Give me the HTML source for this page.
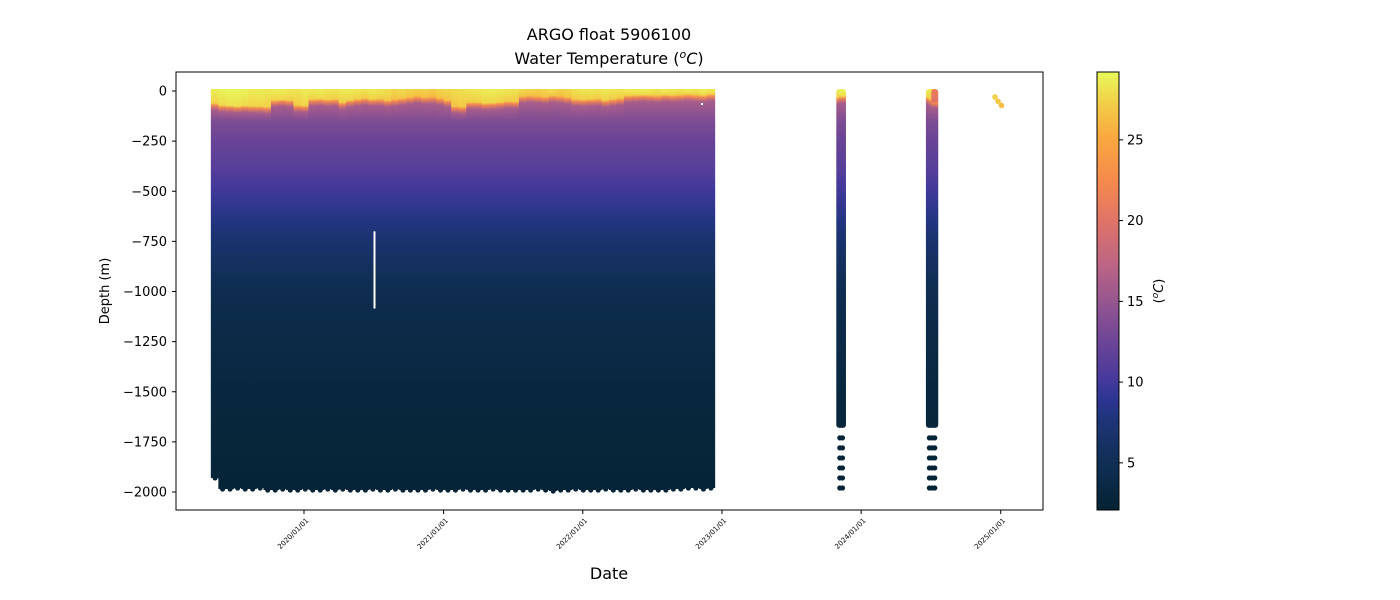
<!DOCTYPE html>
<html><head><meta charset="utf-8">
<style>
html,body{margin:0;padding:0;background:#fff;}
svg{display:block;font-family:"DejaVu Sans","Liberation Sans",sans-serif;}
</style></head>
<body>
<svg id="chart" width="1400" height="600" viewBox="0 0 1400 600" xmlns="http://www.w3.org/2000/svg">
<defs id="defs"></defs>
<rect x="0" y="0" width="1400" height="600" fill="#fff"/>
<g id="plot"></g>
<rect x="176" y="72" width="867" height="438" fill="none" stroke="#000" stroke-width="1"/>
<g id="axes"></g>
<text x="609" y="40" text-anchor="middle" font-size="16">ARGO float 5906100</text>
<text x="609" y="64" text-anchor="middle" font-size="16">Water Temperature (<tspan font-style="italic" baseline-shift="super" font-size="11">o</tspan><tspan font-style="italic">C</tspan>)</text>
<text x="609" y="579" text-anchor="middle" font-size="16">Date</text>
<text transform="translate(109,291) rotate(-90)" text-anchor="middle" font-size="13">Depth (m)</text>
<g id="cbar"></g>
<text transform="translate(1163,291) rotate(-90)" text-anchor="middle" font-size="13">(<tspan font-style="italic" baseline-shift="super" font-size="9">o</tspan><tspan font-style="italic">C</tspan>)</text>
</svg>
<script>
// ---- data ----
const startDate = "2019-05-03";
const profileStepDays = 19.7;
const mixedLayerDepth = [60,70,72,75,72,75,75,78,45,42,45,70,72,40,38,42,40,55,45,40,35,40,38,45,40,35,30,25,30,28,35,45,75,78,55,55,60,58,55,50,52,25,22,25,28,22,25,30,40,42,40,38,45,40,35,22,20,18,20,22,18,20,18,15,18,20,15];
const surfaceTemp = [28.5,28.8,29,29,28.8,28.5,28.6,28.4,28.5,28.6,28.3,28.2,28.5,28.4,28.6,28.3,28.2,28.4,28.5,28.3,28.1,28.4,28.2,28,27.5,27.8,27.4,27.2,27.3,27,27.5,27.6,27.8,28,28.2,28.3,28.5,28.6,28.4,28.2,28.1,27.6,27.4,27.2,27.5,27.8,27.3,27.5,28,28.2,28.3,28.1,28.4,28.2,28,28.3,28.5,28.6,28.4,28.2,28.5,28.3,28.1,28.4,28.2,28.5,28.3];
const maxDepth = [1930,1985,1985,1980,1985,1985,1980,1990,1990,1985,1990,1990,1985,1990,1990,1985,1990,1985,1990,1990,1990,1985,1990,1990,1985,1990,1990,1990,1990,1985,1990,1990,1990,1985,1990,1990,1990,1985,1990,1990,1990,1990,1990,1985,1990,1995,1990,1990,1985,1990,1990,1990,1985,1990,1990,1990,1985,1990,1990,1990,1990,1985,1985,1980,1980,1985,1980];
const extraProfiles = ["2023-11-06","2023-11-13","2024-06-28","2024-07-05","2024-07-12"];
const extraMLD = [30,25,30,40,50];
const extraSST = [28.5,28.8,28.6,28.2,21];
const extraDotDepths = [1730,1780,1830,1880,1930,1980];
const lateDates = ["2024-12-17","2024-12-25","2025-01-03"];
const lateDepths = [-30,-52,-72];
const lateTemps = [27.3,26.8,26.3];
const baseDepths = [150,250,400,500,650,750,900,1000,1250,1500,1750,2000];
const baseTemps = [13.5,12.3,11,9.8,8,6.8,5.4,4.6,3.7,3.1,2.7,2.4];
const yTicks = [0,-250,-500,-750,-1000,-1250,-1500,-1750,-2000];
const xTicks = ["2020-01-01","2021-01-01","2022-01-01","2023-01-01","2024-01-01","2025-01-01"];
const cbTicks = [5,10,15,20,25];
// ---- scales ----
const NS="http://www.w3.org/2000/svg";
const day0=Date.UTC(2020,0,1);
function dnum(s){const p=s.split("-");return (Date.UTC(+p[0],p[1]-1,+p[2])-day0)/86400000;}
function xs(days){return 304+days*0.38135;}
function ys(v){return 91-v*0.2005;}
const tMin=2.08,tMax=29.2;
const cmap=[[0,"#042333"],[0.1,"#0f2e52"],[0.2,"#1d3576"],[0.25,"#2c3592"],[0.3,"#473a9c"],[0.38,"#6a4496"],[0.47,"#935591"],[0.56,"#bc6585"],[0.66,"#e07368"],[0.75,"#f58a4c"],[0.85,"#f9a83f"],[0.93,"#f2cf48"],[1,"#e8fa5b"]];
function hex(c){return [parseInt(c.slice(1,3),16),parseInt(c.slice(3,5),16),parseInt(c.slice(5,7),16)];}
function color(t){let f=(t-tMin)/(tMax-tMin);f=Math.max(0,Math.min(1,f));
 for(let i=1;i<cmap.length;i++){if(f<=cmap[i][0]){const a=cmap[i-1],b=cmap[i];const k=(f-a[0])/(b[0]-a[0]);const A=hex(a[1]),B=hex(b[1]);
 return "rgb("+A.map((v,j)=>Math.round(v+(B[j]-v)*k)).join(",")+")";}}return cmap[cmap.length-1][1];}
function el(tag,attrs,parent){const e=document.createElementNS(NS,tag);for(const k in attrs)e.setAttribute(k,attrs[k]);parent.appendChild(e);return e;}
const defs=document.getElementById("defs"),plot=document.getElementById("plot"),axes=document.getElementById("axes"),cbar=document.getElementById("cbar");
function makeGrad(id,sst,mld){
 const g=el("linearGradient",{id:id,gradientUnits:"userSpaceOnUse",x1:0,x2:0,y1:ys(0),y2:ys(-2000)},defs);
 const pts=[[0,sst],[mld,sst-1],[mld+12,22],[mld+35,16]];
 baseDepths.forEach((d,i)=>{if(d>mld+40)pts.push([d,baseTemps[i]]);});
 pts.forEach(p=>el("stop",{offset:(p[0]/2000).toFixed(4),"stop-color":color(p[1])},g));
}
// main profiles
const w=profileStepDays*0.38135;
const d0=dnum(startDate);
mixedLayerDepth.forEach((mld,i)=>{
 makeGrad("g"+i,surfaceTemp[i],mld);
 const x=xs(d0+i*profileStepDays);
 const r=el("rect",{x:(x-0.5).toFixed(2),y:ys(0)-2,width:(w+1).toFixed(2),height:(ys(-maxDepth[i])-ys(0)+2).toFixed(2),fill:"url(#g"+i+")"},plot);
 
 
 const c=el("circle",{cx:(x+w/2).toFixed(2),cy:ys(-maxDepth[i]),r:2.6,fill:color(2.4)},plot);
 
 
});
// gap line and stray point
const gap=el("line",{x1:374.5,x2:374.5,y1:ys(-700),y2:ys(-1085),stroke:"#fff","stroke-width":2},plot);


const sp=el("rect",{x:701,y:103,width:2,height:2,fill:"#fff"},plot);


// extra profiles
extraProfiles.forEach((ds,i)=>{
 makeGrad("e"+i,extraSST[i],extraMLD[i]);
 const x=xs(dnum(ds));
 const r=el("rect",{x:(x-3.5).toFixed(2),y:ys(0)-2,width:7,height:(ys(-1680)-ys(0)+2).toFixed(2),fill:"url(#e"+i+")",rx:3},plot);
 
 
 extraDotDepths.forEach(dd=>{
  const c=el("circle",{cx:x.toFixed(2),cy:ys(-dd),r:2.6,fill:color(2.4)},plot);
  
  
 });
});
lateDates.forEach((ds,i)=>{
 const c=el("circle",{cx:xs(dnum(ds)).toFixed(2),cy:ys(lateDepths[i]),r:2.8,fill:color(lateTemps[i])},plot);
 
 
});
// y ticks
yTicks.forEach(v=>{
 const y=ys(v);
 const t=el("line",{x1:172,x2:176,y1:y,y2:y,stroke:"#000"},axes);
 
 
 const l=el("text",{x:167,y:y+4.5,"text-anchor":"end","font-size":13},axes);
 l.textContent=(v<0?"\u2212"+(-v):""+v);
 
 
});
xTicks.forEach(ds=>{
 const x=xs(dnum(ds));
 const t=el("line",{x1:x,x2:x,y1:510,y2:514,stroke:"#000"},axes);
 
 
 const l=el("text",{transform:"translate("+(x+5)+",521) rotate(-45)","text-anchor":"end","font-size":7},axes);
 l.textContent=ds.replace(/-/g,"/");
 
 
});
// colorbar
const cg=el("linearGradient",{id:"cbg",x1:0,y1:1,x2:0,y2:0},defs);
cmap.forEach(s=>el("stop",{offset:s[0],"stop-color":s[1]},cg));
const cb=el("rect",{x:1097,y:72,width:22,height:438,fill:"url(#cbg)",stroke:"#000","stroke-width":1},cbar);


function cy(t){return 510-(t-tMin)/(tMax-tMin)*438;}
cbTicks.forEach(v=>{
 const y=cy(v);
 const t=el("line",{x1:1119,x2:1123,y1:y,y2:y,stroke:"#000"},cbar);
 
 
 const l=el("text",{x:1127,y:y+4.5,"font-size":13},cbar);
 l.textContent=v;
 
 
});
</script>
</body></html>
